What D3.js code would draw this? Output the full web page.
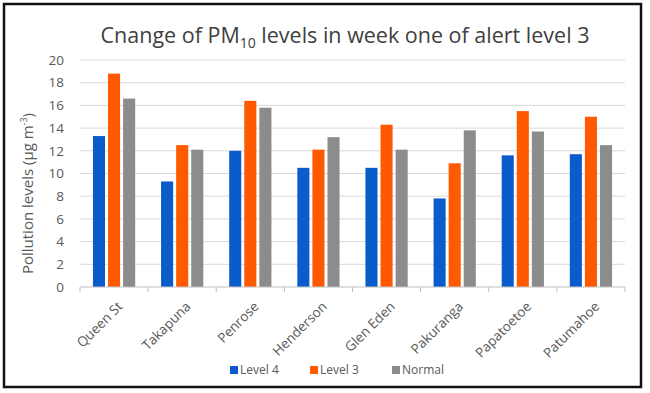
<!DOCTYPE html>
<html>
<head>
<meta charset="utf-8">
<script src="https://cdn.jsdelivr.net/npm/d3@7"></script>
<style>
  body { margin: 0; background: #fff; }
  text { font-family: "Open Sans", "Noto Sans", sans-serif; }
</style>
</head>
<body>
<script>
const width = 650;
const height = 393;

// chart data
const sites = ["Queen St", "Takapuna", "Penrose", "Henderson", "Glen Eden", "Pakuranga", "Papatoetoe", "Patumahoe"];
const seriesNames = ["Level 4", "Level 3", "Normal"];
const level4 = [13.3, 9.3, 12.0, 10.5, 10.5, 7.8, 11.6, 11.7];
const level3 = [18.8, 12.5, 16.4, 12.1, 14.3, 10.9, 15.5, 15.0];
const normal = [16.6, 12.1, 15.8, 13.2, 12.1, 13.8, 13.7, 12.5];
const yTicks = [0, 2, 4, 6, 8, 10, 12, 14, 16, 18, 20];
const colors = ["#0a5ccc", "#ff5a00", "#8c8c8c"];

const rows = sites.map((s, i) => ({ site: s, values: [level4[i], level3[i], normal[i]] }));

const margin = { top: 60, right: 25, bottom: 106, left: 80 };

const svg = d3.select("body").append("svg")
    .attr("width", width)
    .attr("height", height);

svg.append("rect")
    .attr("x", 4).attr("y", 4)
    .attr("width", 637).attr("height", 383)
    .attr("fill", "#fff")
    .attr("stroke", "#111")
    .attr("stroke-width", 2.5);

const x0 = d3.scaleBand()
    .domain(sites)
    .range([margin.left, width - margin.right])
    .padding(0);

const x1 = d3.scaleBand()
    .domain(d3.range(3))
    .range([x0.bandwidth() * 0.19, x0.bandwidth() * 0.81])
    .paddingInner(0.2);

const y = d3.scaleLinear()
    .domain([0, 20])
    .range([height - margin.bottom, margin.top]);

// gridlines
svg.append("g")
    .selectAll("line")
    .data(yTicks.slice(1))
    .join("line")
    .attr("x1", margin.left)
    .attr("x2", width - margin.right)
    .attr("y1", d => y(d))
    .attr("y2", d => y(d))
    .attr("stroke", "#d9d9d9")
    .attr("stroke-width", 1);

// y tick labels
svg.append("g")
    .selectAll("text")
    .data(yTicks)
    .join("text")
    .attr("x", margin.left - 16)
    .attr("y", d => y(d))
    .attr("dy", "0.35em")
    .attr("text-anchor", "end")
    .attr("font-size", 13.5)
    .attr("fill", "#595959")
    .text(d => d);

// bars
const groups = svg.append("g")
    .selectAll("g")
    .data(rows)
    .join("g")
    .attr("transform", d => `translate(${x0(d.site)},0)`);

groups.selectAll("rect")
    .data(d => d.values.map((v, k) => ({ k, v })))
    .join("rect")
    .attr("x", d => x1(d.k))
    .attr("y", d => y(d.v))
    .attr("width", x1.bandwidth())
    .attr("height", d => y(0) - y(d.v))
    .attr("fill", d => colors[d.k]);

// x axis with category ticks
const xAxis = svg.append("g")
    .attr("transform", `translate(0,${y(0)})`);

xAxis.append("line")
    .attr("x1", margin.left)
    .attr("x2", width - margin.right)
    .attr("stroke", "#bfbfbf");

xAxis.selectAll("line.tick")
    .data(sites.concat(["end"]))
    .join("line")
    .attr("class", "tick")
    .attr("x1", (d, i) => margin.left + i * x0.step())
    .attr("x2", (d, i) => margin.left + i * x0.step())
    .attr("y1", 0)
    .attr("y2", 5)
    .attr("stroke", "#bfbfbf");

xAxis.selectAll("text")
    .data(sites)
    .join("text")
    .attr("transform", d => `translate(${x0(d) + x0.bandwidth() / 2 + 6},17) rotate(-45)`)
    .attr("text-anchor", "end")
    .attr("dy", "0.35em")
    .attr("font-size", 13.5)
    .attr("fill", "#595959")
    .text(d => d);

// title
const title = svg.append("text")
    .attr("x", 345)
    .attr("y", 43)
    .attr("text-anchor", "middle")
    .attr("font-size", 21.5)
    .attr("fill", "#404040");
title.append("tspan").text("Cnange of PM");
title.append("tspan").attr("font-size", 14).attr("dy", 5).text("10");
title.append("tspan").attr("dy", -5).text(" levels in week one of alert level 3");

// y axis title
const yTitle = svg.append("text")
    .attr("transform", `translate(33,${(y(0) + y(20)) / 2 + 20}) rotate(-90)`)
    .attr("text-anchor", "middle")
    .attr("font-size", 15)
    .attr("fill", "#595959");
yTitle.append("tspan").text("Pollution levels (μg m");
yTitle.append("tspan").attr("font-size", 9).attr("dy", -6).text("-3");
yTitle.append("tspan").attr("dy", 6).text(")");

// legend
const legendX = [230, 310, 392];
const legend = svg.append("g")
    .selectAll("g")
    .data(seriesNames)
    .join("g")
    .attr("transform", (d, i) => `translate(${legendX[i]},370)`);

legend.append("rect")
    .attr("x", 0).attr("y", -4)
    .attr("width", 8).attr("height", 8)
    .attr("fill", (d, i) => colors[i]);

legend.append("text")
    .attr("x", 10)
    .attr("dy", "0.35em")
    .attr("font-size", 12)
    .attr("fill", "#595959")
    .text(d => d);
</script>
</body>
</html>
